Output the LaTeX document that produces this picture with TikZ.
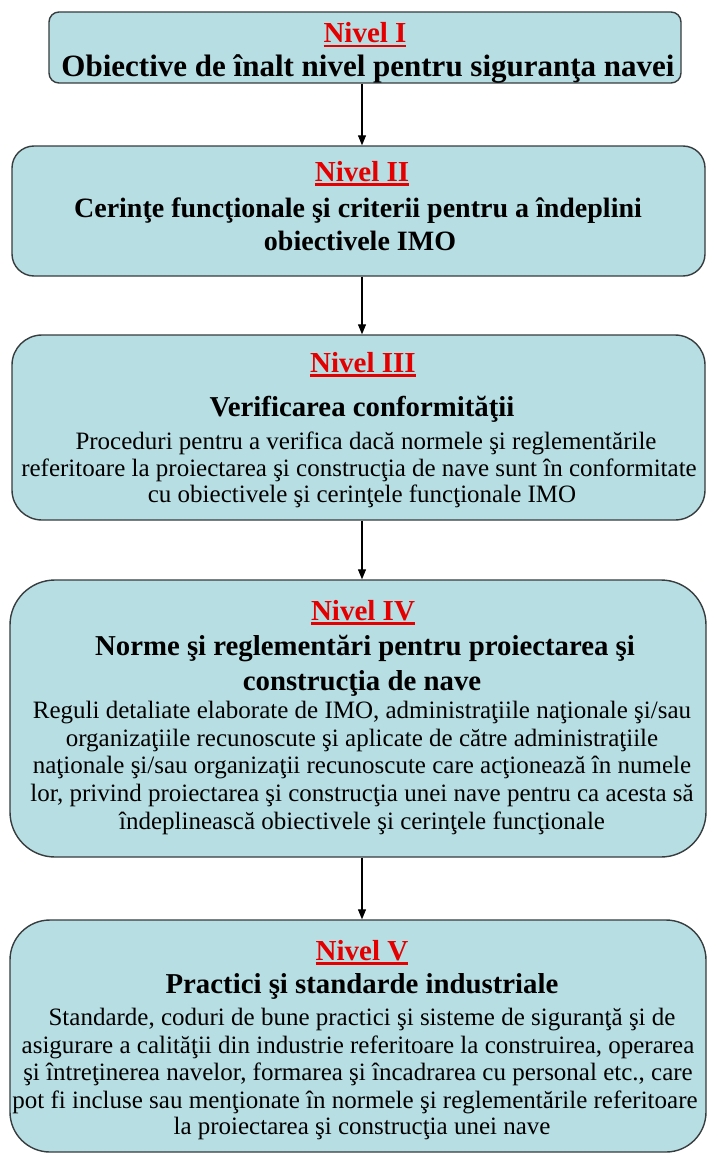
\documentclass[tikz,border=0pt]{standalone}
\usepackage{fontspec}
\setmainfont{Liberation Serif}
\usetikzlibrary{arrows.meta}
\definecolor{boxfill}{RGB}{183,222,227}
\definecolor{boxline}{RGB}{55,60,62}
\definecolor{nivred}{RGB}{228,0,0}
\newcommand{\nivtxt}[1]{\setbox0\hbox{#1}\rlap{\rule[-4.5pt]{\wd0}{2.8pt}}\box0}
\begin{document}
\begin{tikzpicture}[x=1pt,y=-1pt,
  box/.style={draw=boxline, line width=1.4pt, fill=boxfill, inner sep=0pt},
  niv/.style={anchor=base, inner sep=0pt, text=nivred, font=\fontsize{29}{34}\selectfont\bfseries},
  ttl/.style={anchor=base, inner sep=0pt, font=\fontsize{28.8}{34}\selectfont\bfseries},
  midttl/.style={anchor=base, inner sep=0pt, font=\fontsize{28}{33}\selectfont\bfseries},
  bigttl/.style={anchor=base, inner sep=0pt, font=\fontsize{31}{36}\selectfont\bfseries},
  bod/.style={anchor=base, inner sep=0pt, font=\fontsize{25}{28}\selectfont},
  arr/.style={-{Triangle[length=10pt,width=8pt]}, line width=1.1pt, draw=black}]
\useasboundingbox (0,0) rectangle (707,1153);
\coordinate (ax) at (362,0);
% boxes
\node[box, rounded corners=10pt, minimum width=632pt, minimum height=71pt] (b1) at (365,47.5) {};
\node[box, rounded corners=22pt, minimum width=693pt, minimum height=130pt] (b2) at (358.5,211) {};
\node[box, rounded corners=30pt, minimum width=693pt, minimum height=185pt] (b3) at (358.5,427.5) {};
\node[box, rounded corners=45pt, minimum width=696pt, minimum height=277pt] (b4) at (358,718.5) {};
\node[box, rounded corners=40pt, minimum width=696pt, minimum height=232pt] (b5) at (358,1036) {};
% arrows
\draw[arr] (b1.south -| ax) -- (b2.north -| ax);
\draw[arr] (b2.south -| ax) -- (b3.north -| ax);
\draw[arr] (b3.south -| ax) -- (b4.north -| ax);
\draw[arr] (b4.south -| ax) -- (b5.north -| ax);
% box 1
\node[niv] (l1a) at (365,43) {\nivtxt{Nivel I}};
\node[bigttl] (l1b) at (368,77) {Obiective de înalt nivel pentru siguranţa navei};
% box 2
\node[niv] (l2a) at (362,181) {\nivtxt{Nivel II}};
\node[midttl] (l2b) at (358,217) {Cerinţe funcţionale şi criterii pentru a îndeplini};
\node[midttl] (l2c) at (360,250) {obiectivele IMO};
% box 3
\node[niv] (l3a) at (363,372) {\nivtxt{Nivel III}};
\node[ttl] (l3b) at (362,416) {Verificarea conformităţii};
\node[bod] (l3c) at (366,449) {Proceduri pentru a verifica dacă normele şi reglementările};
\node[bod] (l3d) at (359,476) {referitoare la proiectarea şi construcţia de nave sunt în conformitate};
\node[bod] (l3e) at (362,502) {cu obiectivele şi cerinţele funcţionale IMO};
% box 4
\node[niv] (l4a) at (363,620) {\nivtxt{Nivel IV}};
\node[ttl] (l4b) at (365,655) {Norme şi reglementări pentru proiectarea şi};
\node[ttl] (l4c) at (362,690) {construcţia de nave};
\node[bod] (l4d) at (362,718) {Reguli detaliate elaborate de IMO, administraţiile naţionale şi/sau};
\node[bod] (l4e) at (362,746) {organizaţiile recunoscute şi aplicate de către administraţiile};
\node[bod] (l4f) at (362,773) {naţionale şi/sau organizaţii recunoscute care acţionează în numele};
\node[bod] (l4g) at (362,801) {lor, privind proiectarea şi construcţia unei nave pentru ca acesta să};
\node[bod] (l4h) at (362,829) {îndeplinească obiectivele şi cerinţele funcţionale};
% box 5
\node[niv] (l5a) at (362,960) {\nivtxt{Nivel V}};
\node[ttl] (l5b) at (362,993) {Practici şi standarde industriale};
\node[bod] (l5c) at (362,1025) {Standarde, coduri de bune practici şi sisteme de siguranţă şi de};
\node[bod] (l5d) at (358,1053) {asigurare a calităţii din industrie referitoare la construirea, operarea};
\node[bod] (l5e) at (358,1080) {şi întreţinerea navelor, formarea şi încadrarea cu personal etc., care};
\node[bod] (l5f) at (355,1108) {pot fi incluse sau menţionate în normele şi reglementările referitoare};
\node[bod] (l5g) at (362,1134) {la proiectarea şi construcţia unei nave};
\end{tikzpicture}
\end{document}
